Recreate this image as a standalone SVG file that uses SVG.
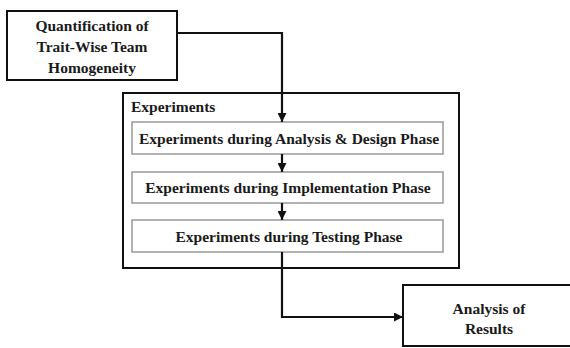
<svg xmlns="http://www.w3.org/2000/svg" width="570" height="348" viewBox="0 0 570 348">
  <defs>
    <marker id="arrow" viewBox="0 0 10 10" refX="10" refY="5" markerWidth="9" markerHeight="9" markerUnits="userSpaceOnUse" orient="auto">
      <path d="M0,0 L10,5 L0,10 Z" fill="#111"/>
    </marker>
    <style>
      text { font-family: "Liberation Serif", "Times New Roman", serif; font-weight: bold; font-size: 15.5px; fill: #1a1a1a; }
      .c { text-anchor: middle; }
      .box { fill: #fff; stroke: #111; stroke-width: 2; }
      .inner { fill: #fff; stroke: #999; stroke-width: 1.5; }
      .wire { fill: none; stroke: #111; stroke-width: 2.2; }
    </style>
  </defs>
  <rect width="570" height="348" fill="#fff"/>

  <g id="quantification">
    <rect class="box" x="7" y="11" width="170" height="69"/>
    <text class="c" x="92" y="31">Quantification of</text>
    <text class="c" x="92" y="52">Trait-Wise Team</text>
    <text class="c" x="92" y="73">Homogeneity</text>
  </g>

  <g id="experiments">
    <rect class="box" x="123" y="93" width="336" height="175"/>
    <text x="131" y="112">Experiments</text>
  </g>

  <g id="analysis-design">
    <rect class="inner" x="132" y="122" width="311" height="32"/>
    <text class="c" x="289" y="144">Experiments during Analysis &amp; Design Phase</text>
  </g>

  <g id="implementation">
    <rect class="inner" x="132" y="172" width="311" height="31"/>
    <text class="c" x="288" y="193">Experiments during Implementation Phase</text>
  </g>

  <g id="testing">
    <rect class="inner" x="132" y="220" width="311" height="32"/>
    <text class="c" x="289" y="242">Experiments during Testing Phase</text>
  </g>

  <g id="results">
    <rect class="box" x="403" y="285" width="172" height="61"/>
    <text class="c" x="489" y="314">Analysis of</text>
    <text class="c" x="489" y="334">Results</text>
  </g>

  <g id="connectors">
    <polyline class="wire" points="177,33 282,33 282,122" marker-end="url(#arrow)"/>
    <line class="wire" x1="282" y1="154" x2="282" y2="172" marker-end="url(#arrow)"/>
    <line class="wire" x1="282" y1="203" x2="282" y2="220" marker-end="url(#arrow)"/>
    <polyline class="wire" points="282,252 282,317 403,317" marker-end="url(#arrow)"/>
  </g>
</svg>
